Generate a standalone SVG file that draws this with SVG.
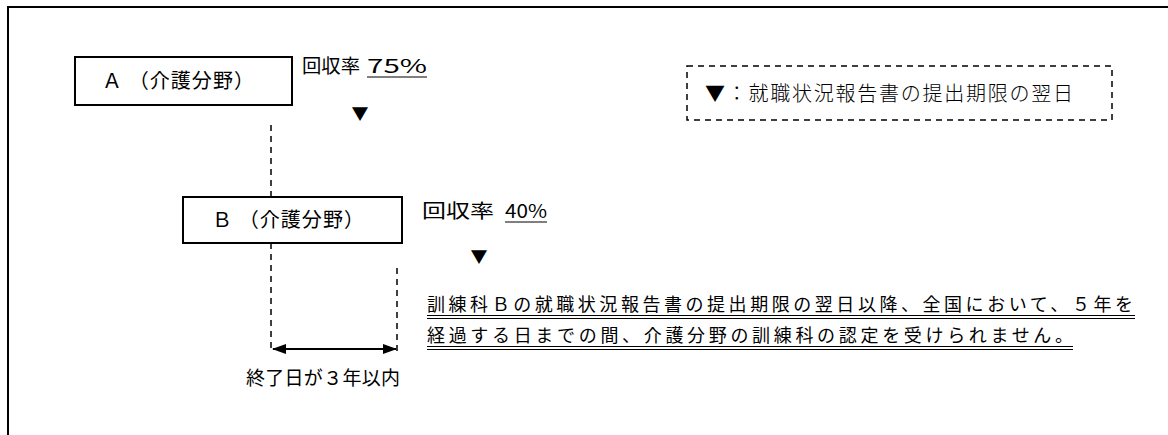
<svg xmlns="http://www.w3.org/2000/svg" width="1168" height="435" viewBox="0 0 1168 435">
<defs>
<style>
.t{font-family:"Noto Sans CJK JP","Noto Sans",sans-serif;fill:#000;}
.box{fill:#fff;stroke:#000;stroke-width:2;}
.dash{fill:none;stroke:#000;stroke-width:1.5;stroke-dasharray:6 5;}
.ul{stroke:#000;stroke-width:1.2;}
</style>
<marker id="ah" viewBox="0 0 14 10" refX="13" refY="5" markerWidth="14" markerHeight="10" markerUnits="userSpaceOnUse" orient="auto-start-reverse">
<path d="M0,0 L14,5 L0,10 Z" fill="#000"/>
</marker>
</defs>
<rect x="0" y="0" width="1168" height="435" fill="#fff"/>
<path d="M8,435 V7 H1168" fill="none" stroke="#000" stroke-width="2"/>

<g id="connectors">
<line class="dash" x1="271" y1="125" x2="271" y2="197"/>
<line class="dash" x1="271" y1="243" x2="271" y2="352"/>
<line class="dash" x1="397" y1="268" x2="397" y2="352"/>
<line x1="273" y1="349" x2="396" y2="349" stroke="#000" stroke-width="2" marker-start="url(#ah)" marker-end="url(#ah)"/>
</g>

<g id="nodeA">
<rect class="box" x="75" y="57" width="217" height="48"/>
<text class="t" x="102" y="88" font-size="20" textLength="152" lengthAdjust="spacing">Ａ （介護分野）</text>
</g>

<g id="rateA">
<text class="t" x="302" y="73" font-size="19"><tspan textLength="58" lengthAdjust="spacingAndGlyphs">回収率</tspan> <tspan x="367" textLength="60" lengthAdjust="spacingAndGlyphs">75%</tspan></text>
<line class="ul" x1="367" y1="77" x2="427" y2="77"/>
<text class="t" x="360" y="120" font-size="17" text-anchor="middle">▼</text>
</g>

<g id="nodeB">
<rect class="box" x="183" y="197" width="219" height="46"/>
<text class="t" x="212" y="227" font-size="20" textLength="152" lengthAdjust="spacing">Ｂ （介護分野）</text>
</g>

<g id="rateB">
<text class="t" x="422" y="218" font-size="19"><tspan textLength="72" lengthAdjust="spacingAndGlyphs">回収率</tspan> <tspan x="505" textLength="42" lengthAdjust="spacingAndGlyphs">40%</tspan></text>
<line class="ul" x1="505" y1="222" x2="547" y2="222"/>
<text class="t" x="479" y="263" font-size="17" text-anchor="middle">▼</text>
</g>

<g id="legend">
<rect x="687" y="66" width="425" height="54" fill="none" stroke="#000" stroke-width="1.5" stroke-dasharray="6 5"/>
<text class="t" x="705" y="101" font-size="20" font-weight="300" textLength="368" lengthAdjust="spacing">▼：就職状況報告書の提出期限の翌日</text>
</g>

<g id="note">
<text class="t" x="427" y="311" font-size="18" textLength="706" lengthAdjust="spacing">訓練科Ｂの就職状況報告書の提出期限の翌日以降、全国において、５年を</text>
<line class="ul" x1="427" y1="315.5" x2="1135" y2="315.5"/>
<line class="ul" x1="427" y1="318.5" x2="1135" y2="318.5"/>
<text class="t" x="427" y="342" font-size="18" textLength="646" lengthAdjust="spacing">経過する日までの間、介護分野の訓練科の認定を受けられません。</text>
<line class="ul" x1="427" y1="346.5" x2="1073" y2="346.5"/>
<line class="ul" x1="427" y1="349.5" x2="1073" y2="349.5"/>
</g>

<g id="period">
<text class="t" x="246" y="385" font-size="19" textLength="154" lengthAdjust="spacing">終了日が３年以内</text>
</g>
</svg>
